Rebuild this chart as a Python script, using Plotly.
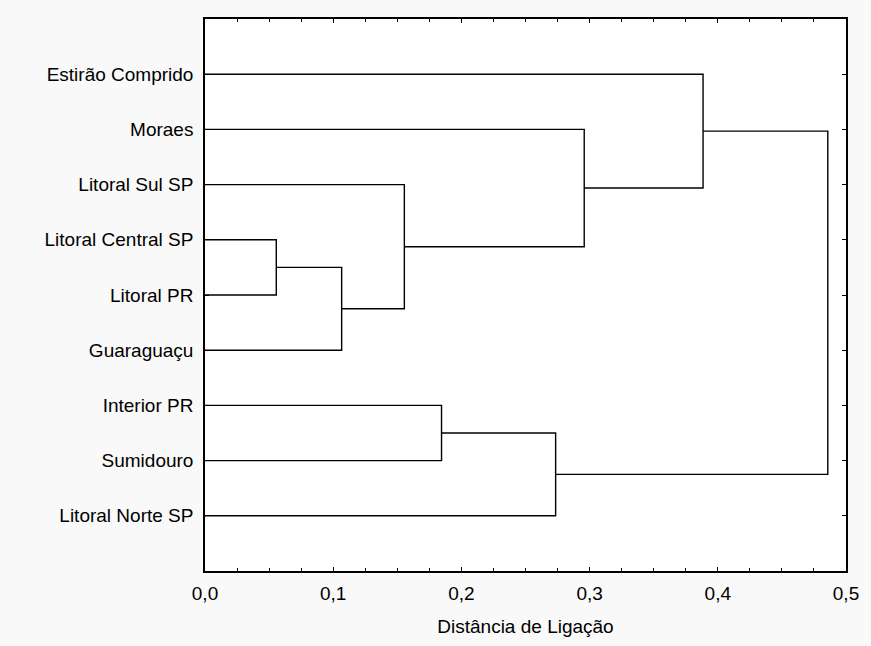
import plotly.graph_objects as go

# Leaves in display order (top to bottom)
leaf_labels = ["Estirão Comprido", "Moraes", "Litoral Sul SP", "Litoral Central SP",
               "Litoral PR", "Guaraguaçu", "Interior PR", "Sumidouro", "Litoral Norte SP"]
# Merge steps: (cluster a, cluster b, linkage distance); new clusters numbered from 9
merge_a = [3, 9, 2, 1, 0, 6, 14, 13]
merge_b = [4, 5, 10, 11, 12, 7, 8, 15]
merge_dist = [0.0556, 0.1066, 0.1555, 0.2958, 0.3885, 0.1845, 0.2735, 0.4858]

x_ticks = [0.0, 0.1, 0.2, 0.3, 0.4, 0.5]

n = len(leaf_labels)
pos = {i: i + 1 for i in range(n)}
height = {i: 0.0 for i in range(n)}
xs, ys = [], []
for k, (a, b, d) in enumerate(zip(merge_a, merge_b, merge_dist)):
    xs += [height[a], d, d, height[b], None]
    ys += [pos[a], pos[a], pos[b], pos[b], None]
    new = n + k
    pos[new] = (pos[a] + pos[b]) / 2
    height[new] = d

fig = go.Figure()
fig.add_trace(go.Scatter(x=xs, y=ys, mode="lines",
                         line=dict(color="black", width=1.4),
                         hoverinfo="skip", showlegend=False))

font = dict(family="Liberation Sans, Arial, sans-serif", size=19, color="black")

fig.update_layout(
    width=871, height=646,
    margin=dict(l=205, r=22, t=19, b=69),
    paper_bgcolor="#f9f9f9", plot_bgcolor="white",
    separators=",.",
    font=font,
    showlegend=False,
    xaxis=dict(range=[0, 0.5], tickvals=x_ticks, tickformat=".1f",
               showgrid=False, zeroline=False,
               showline=True, linecolor="black", linewidth=1.5, mirror="allticks",
               ticks="inside", ticklen=4, tickwidth=1.2, tickcolor="black",
               minor=dict(dtick=0.025, ticks="inside", ticklen=3, tickwidth=1, tickcolor="black"),
               ticklabelstandoff=4,
               title=dict(text="Distância de Ligação", font=dict(size=19), standoff=17)),
    yaxis=dict(range=[10, 0], tickvals=list(range(1, n + 1)), ticktext=leaf_labels,
               showgrid=False, zeroline=False,
               showline=True, linecolor="black", linewidth=1.5, mirror="allticks",
               ticks="inside", ticklen=4, tickwidth=1.2, tickcolor="black",
               ticklabelstandoff=6),
)

fig.write_html("out.html", config={"displayModeBar": False},
               post_script="document.body.style.margin='0';document.body.style.background='#f9f9f9';")
